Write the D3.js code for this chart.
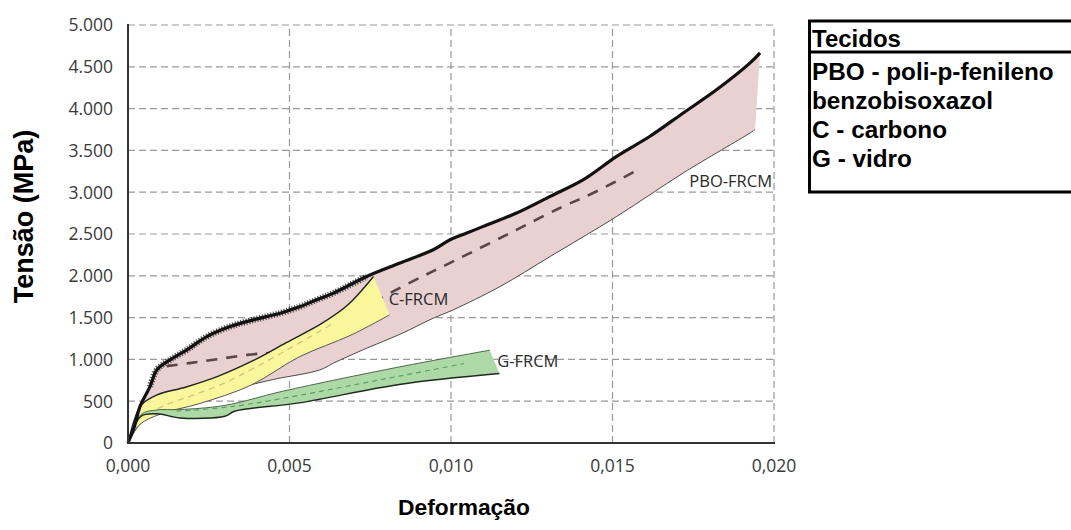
<!DOCTYPE html>
<html>
<head>
<meta charset="utf-8">
<script src="https://cdn.jsdelivr.net/npm/d3@7"></script>
<style>
  html, body { margin: 0; padding: 0; background: #fff; }
  svg { display: block; }
</style>
</head>
<body>
<svg id="chart" width="1071" height="530"></svg>
<script>
// ---------- DATA (strain, stress in MPa) ----------
const xTicks = [0, 0.005, 0.010, 0.015, 0.020];
const yTicks = [0, 500, 1000, 1500, 2000, 2500, 3000, 3500, 4000, 4500, 5000];

// PBO-FRCM envelope
const pboUpper = [[0,0],[0.0002,200],[0.00037,435],[0.00068,674],[0.00089,874],[0.0013,994],[0.00182,1114],
  [0.00244,1273],[0.00316,1393],[0.00388,1473],[0.00471,1553],[0.00533,1632],[0.00584,1713],[0.00636,1793],
  [0.00739,1992],[0.00842,2152],[0.00945,2311],[0.00997,2431],[0.01049,2511],[0.011,2591],[0.01203,2751],
  [0.01307,2950],[0.0141,3150],[0.01513,3429],[0.01616,3669],[0.01719,3948],[0.01823,4228],[0.01926,4547],[0.01957,4667]];
const pboLower = [[0,0],[0.0005,280],[0.0015,450],[0.0025,580],[0.0034,660],[0.0045,760],[0.00594,874],[0.00636,955],
  [0.00739,1134],[0.00842,1300],[0.00945,1493],[0.01007,1593],[0.01152,1872],[0.01307,2231],[0.01513,2710],
  [0.01719,3230],[0.01926,3709],[0.01941,3749]];
const pboMean = [[0.0012,920],[0.0019,955],[0.0037,1054],[0.005,1120],[0.0065,1450],[0.0085,1872],[0.01017,2192],
  [0.01193,2531],[0.01337,2811],[0.0144,2990],[0.01585,3280]];

// C-FRCM envelope
const cUpper = [[0,0],[0.0002,280],[0.0004,450],[0.0009,575],[0.0018,670],[0.0028,800],[0.0039,990],[0.0049,1200],
  [0.006,1430],[0.0068,1650],[0.0076,1992]];
const cLower = [[0,0],[0.0002,150],[0.0005,260],[0.0012,370],[0.0022,470],[0.0038,690],[0.0053,1030],[0.0069,1290],[0.0081,1533]];
const cMean = [[0.0003,300],[0.0012,460],[0.003,720],[0.0064,1440]];

// G-FRCM envelope
const gUpper = [[0,0],[0.0004,340],[0.0009,395],[0.0016,400],[0.003,450],[0.0048,620],[0.0084,910],[0.0112,1110]];
const gLower = [[0,0],[0.0004,320],[0.0009,350],[0.0016,300],[0.003,320],[0.0033,380],[0.0053,480],[0.0084,700],[0.0115,830]];
const gMean = [[0.0015,380],[0.0033,440],[0.0084,800],[0.0104,950]];

const seriesLabels = [
  {text: "PBO-FRCM", at: [0.01738, 3060]},
  {text: "C-FRCM",   at: [0.00807, 1650]},
  {text: "G-FRCM",   at: [0.01143, 915]}
];

const legendTitle = "Tecidos";
const legendLines = ["PBO - poli-p-fenileno", "benzobisoxazol", "C - carbono", "G - vidro"];

// ---------- LAYOUT ----------
const svg = d3.select("#chart");
const X0 = 128, X1 = 774, Y0 = 443, Y1 = 25;
const x = d3.scaleLinear().domain([0, 0.020]).range([X0, X1]);
const y = d3.scaleLinear().domain([0, 5000]).range([Y0, Y1]);

const loc = d3.formatLocale({decimal: ",", thousands: ".", grouping: [3], currency: ["", ""]});
const fx = loc.format(".3f");
const fy = loc.format(",d");

svg.append("rect").attr("width", 1071).attr("height", 530).attr("fill", "#fff");

// gridlines
const grid = svg.append("g").attr("stroke", "#999").attr("stroke-width", 1.2).attr("stroke-dasharray", "7,4");
grid.selectAll("line.h").data(yTicks.filter(d => d > 0)).join("line")
  .attr("x1", X0).attr("x2", X1).attr("y1", d => y(d)).attr("y2", d => y(d));
grid.selectAll("line.v").data(xTicks.filter(d => d > 0)).join("line")
  .attr("y1", Y0).attr("y2", Y1).attr("x1", d => x(d)).attr("x2", d => x(d));

const curve = d3.curveCatmullRom.alpha(0.5);
const line = d3.line().x(d => x(d[0])).y(d => y(d[1])).curve(curve);
const band = (up, lo) => line(up) + "L" + line(lo.slice().reverse()).slice(1) + "Z";

// PBO
svg.append("path").attr("d", band(pboUpper, pboLower)).attr("fill", "#e9d0d1").attr("stroke", "none");
svg.append("path").attr("d", line(pboLower)).attr("fill", "none").attr("stroke", "#4a4a4a").attr("stroke-width", 1);
svg.append("path").attr("d", line(pboMean)).attr("fill", "none").attr("stroke", "#5a4649")
  .attr("stroke-width", 2.6).attr("stroke-dasharray", "11,9");

// C
svg.append("path").attr("d", band(cUpper, cLower)).attr("fill", "#f9f69c").attr("stroke", "none");
svg.append("path").attr("d", line(cLower)).attr("fill", "none").attr("stroke", "#555").attr("stroke-width", 1);
svg.append("path").attr("d", line(cUpper)).attr("fill", "none").attr("stroke", "#222").attr("stroke-width", 1.4);
svg.append("path").attr("d", line(cMean)).attr("fill", "none").attr("stroke", "#c9c878")
  .attr("stroke-width", 1.3).attr("stroke-dasharray", "6,5");

// G
svg.append("path").attr("d", band(gUpper, gLower)).attr("fill", "#acd9a6").attr("stroke", "none");
svg.append("path").attr("d", line(gUpper)).attr("fill", "none").attr("stroke", "#3d5a3d").attr("stroke-width", 0.9);
svg.append("path").attr("d", line(gLower)).attr("fill", "none").attr("stroke", "#1f2a1f").attr("stroke-width", 1.5);
svg.append("path").attr("d", line(gMean)).attr("fill", "none").attr("stroke", "#5f9e62")
  .attr("stroke-width", 1.2).attr("stroke-dasharray", "5,4");

// PBO upper envelope (rough black): hairy band over the noisy early part, then solid line
svg.append("path").attr("d", line(pboUpper.filter(d => d[0] >= 0.0006 && d[0] <= 0.0075)))
  .attr("fill", "none").attr("stroke", "#222").attr("stroke-width", 6.5)
  .attr("stroke-dasharray", "1.2,1.6").attr("opacity", 0.75);
svg.append("path").attr("d", line(pboUpper)).attr("fill", "none").attr("stroke", "#111")
  .attr("stroke-width", 3.2).attr("stroke-linejoin", "round");

// axes
svg.append("line").attr("x1", X0).attr("x2", X0).attr("y1", Y1 - 1).attr("y2", Y0 + 1)
  .attr("stroke", "#333").attr("stroke-width", 2);
svg.append("line").attr("x1", X0 - 1).attr("x2", X1 + 1).attr("y1", Y0).attr("y2", Y0)
  .attr("stroke", "#333").attr("stroke-width", 2);

const tickFont = "'Open Sans', sans-serif";
svg.append("g").selectAll("text").data(yTicks).join("text")
  .attr("x", 113).attr("y", d => y(d)).attr("dy", "0.36em").attr("text-anchor", "end")
  .attr("font-family", tickFont).attr("font-size", 17.5).attr("fill", "#3a3a3a").text(d => fy(d));
svg.append("g").selectAll("text").data(xTicks).join("text")
  .attr("x", d => x(d)).attr("y", 472).attr("text-anchor", "middle")
  .attr("font-family", tickFont).attr("font-size", 17.5).attr("fill", "#3a3a3a").text(d => fx(d));

// series labels
svg.append("g").selectAll("text").data(seriesLabels).join("text")
  .attr("x", d => x(d.at[0])).attr("y", d => y(d.at[1]))
  .attr("font-family", tickFont).attr("font-size", 16.5).attr("fill", "#2a2a2a").text(d => d.text);

// axis titles
svg.append("text").attr("x", 464).attr("y", 515).attr("text-anchor", "middle")
  .attr("font-family", "'Liberation Sans', Arial, sans-serif").attr("font-weight", "bold")
  .attr("font-size", 22.8).attr("fill", "#000").text("Deformação");
svg.append("text").attr("transform", "translate(33,216.5) rotate(-90)").attr("text-anchor", "middle")
  .attr("font-family", "'Liberation Sans', Arial, sans-serif").attr("font-weight", "bold")
  .attr("font-size", 27).attr("fill", "#000").text("Tensão (MPa)");

// legend box
const lg = svg.append("g");
lg.append("rect").attr("x", 809.5).attr("y", 21).attr("width", 300).attr("height", 171)
  .attr("fill", "#fff").attr("stroke", "#000").attr("stroke-width", 3);
lg.append("line").attr("x1", 809.5).attr("x2", 1110).attr("y1", 52).attr("y2", 52)
  .attr("stroke", "#000").attr("stroke-width", 3);
lg.append("text").attr("x", 812).attr("y", 47)
  .attr("font-family", "'Liberation Sans', Arial, sans-serif").attr("font-weight", "bold")
  .attr("font-size", 24).attr("fill", "#000").text(legendTitle);
lg.selectAll("text.row").data(legendLines).join("text").attr("class", "row")
  .attr("x", 812).attr("y", (d, i) => 80 + i * 29)
  .attr("font-family", "'Liberation Sans', Arial, sans-serif").attr("font-weight", "bold")
  .attr("font-size", 24.3).attr("fill", "#000").text(d => d);
</script>
</body>
</html>
